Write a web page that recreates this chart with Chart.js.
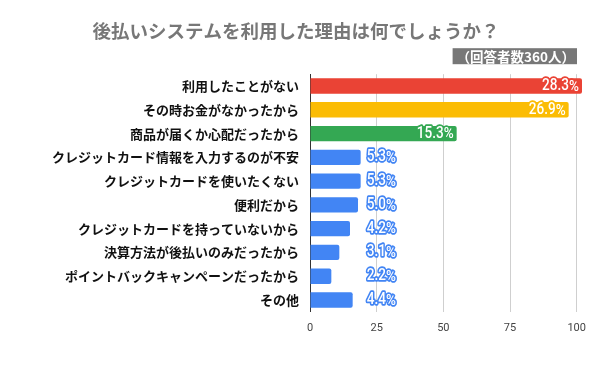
<!DOCTYPE html>
<html>
<head>
<meta charset="utf-8">
<script src="https://cdn.jsdelivr.net/npm/chart.js@4"></script>
<style>
  html, body { margin: 0; padding: 0; background: #fff; }
  #wrap { width: 600px; height: 371px; }
</style>
</head>
<body>
<div id="wrap"><canvas id="reasonChart" width="600" height="371"></canvas></div>
<script>
const JP_FONT = "'Noto Sans CJK JP', 'Noto Sans', sans-serif";

const categories = [
  "利用したことがない",
  "その時お金がなかったから",
  "商品が届くか心配だったから",
  "クレジットカード情報を入力するのが不安",
  "クレジットカードを使いたくない",
  "便利だから",
  "クレジットカードを持っていないから",
  "決算方法が後払いのみだったから",
  "ポイントバックキャンペーンだったから",
  "その他"
];
// respondents per reason (of 360)
const counts = [102, 97, 55, 19, 19, 18, 15, 11, 8, 16];
const percentLabels = ["28.3", "26.9", "15.3", "5.3", "5.3", "5.0", "4.2", "3.1", "2.2", "4.4"];
const barColors = ["#ea4335", "#fbbc04", "#34a853", "#4285f4", "#4285f4", "#4285f4", "#4285f4", "#4285f4", "#4285f4", "#4285f4"];
const xTicks = [0, 25, 50, 75, 100];
const titleText = "後払いシステムを利用した理由は何でしょうか？";
const noteText = "（回答者数360人）";

// ── value labels: white text with outline in bar colour ─────────────────

function drawValue(ctx, num, color, x, y, alignRight) {
  const numScale = 0.85, pctScale = 0.9;
  ctx.save();
  const numFont = "500 16px Roboto, sans-serif";
  const pctFont = "500 15px Roboto, sans-serif";
  ctx.font = numFont;
  const wNum = ctx.measureText(num).width * numScale;
  ctx.font = pctFont;
  const wPct = ctx.measureText("%").width * pctScale;
  const left = alignRight ? x - wNum - wPct : x;
  ctx.textBaseline = "middle";
  ctx.textAlign = "left";
  ctx.lineJoin = "round";
  ctx.lineWidth = 3.5;
  ctx.strokeStyle = color;
  ctx.fillStyle = "#fff";

  ctx.save();
  ctx.translate(left, y);
  ctx.scale(numScale, 1);
  ctx.font = numFont;
  ctx.strokeText(num, 0, 0);
  ctx.fillText(num, 0, 0);
  ctx.restore();

  ctx.translate(left + wNum, y + 1);
  ctx.scale(pctScale, 1);
  ctx.font = pctFont;
  ctx.strokeText("%", 0, 0);
  ctx.fillText("%", 0, 0);
  ctx.restore();
}

const valueLabels = {
  id: "valueLabels",
  afterDatasetsDraw(chart) {
    const ctx = chart.ctx;
    const meta = chart.getDatasetMeta(0);
    const xs = chart.scales.x;
    const small = counts.filter(c => c < 50);
    const outsideX = xs.getPixelForValue(Math.max(...small)) + 6;
    meta.data.forEach((bar, i) => {
      if (counts[i] >= 50) {
        drawValue(ctx, percentLabels[i], barColors[i], bar.x - 3, bar.y, true);
      } else {
        drawValue(ctx, percentLabels[i], barColors[i], outsideX, bar.y, false);
      }
    });
  }
};

// ── respondent note box under the title ─────────────────────────────────

const noteBox = {
  id: "noteBox",
  afterDraw(chart) {
    const ctx = chart.ctx;
    const area = chart.chartArea;
    ctx.save();
    ctx.font = "bold 13.5px " + JP_FONT;
    const w = ctx.measureText(noteText).width + 6;
    const right = area.right - 5;
    const top = area.top - 26;
    ctx.fillStyle = "#777";
    ctx.fillRect(right - w, top, w, 16);
    ctx.fillStyle = "#fff";
    ctx.textBaseline = "middle";
    ctx.textAlign = "right";
    ctx.fillText(noteText, right - 2, top + 8.5);
    ctx.restore();
  }
};

new Chart(document.getElementById("reasonChart"), {
  type: "bar",
  data: {
    labels: categories,
    datasets: [{
      data: counts,
      backgroundColor: barColors,
      borderWidth: 0,
      borderRadius: 2,
      barPercentage: 0.65,
      categoryPercentage: 1
    }]
  },
  options: {
    indexAxis: "y",
    responsive: false,
    animation: false,
    events: [],
    layout: { padding: { left: 10, right: 18, top: 0, bottom: 26 } },
    plugins: {
      legend: { display: false },
      tooltip: { enabled: false },
      title: {
        display: true,
        text: titleText,
        color: "#777",
        font: { family: JP_FONT, size: 18.5, weight: "bold" },
        padding: { top: 20, bottom: 32 }
      }
    },
    scales: {
      x: {
        min: 0,
        max: 102,
        afterBuildTicks: s => { s.ticks = xTicks.map(v => ({ value: v })); },
        grid: {
          color: ctx => ctx.tick && ctx.tick.value === 0 ? "rgba(0,0,0,0)" : "#cfcfcf",
          drawTicks: false
        },
        border: { display: false },
        ticks: { color: "#444", padding: 10, font: { family: "Roboto, sans-serif", size: 11 } }
      },
      y: {
        afterFit: s => { s.width = 300; },
        grid: { display: false, drawTicks: false },
        border: { display: true, color: "#333", width: 1 },
        ticks: { color: "#111", padding: 11, font: { family: JP_FONT, size: 13, weight: "bold" } }
      }
    }
  },
  plugins: [valueLabels, noteBox]
});
</script>
</body>
</html>
